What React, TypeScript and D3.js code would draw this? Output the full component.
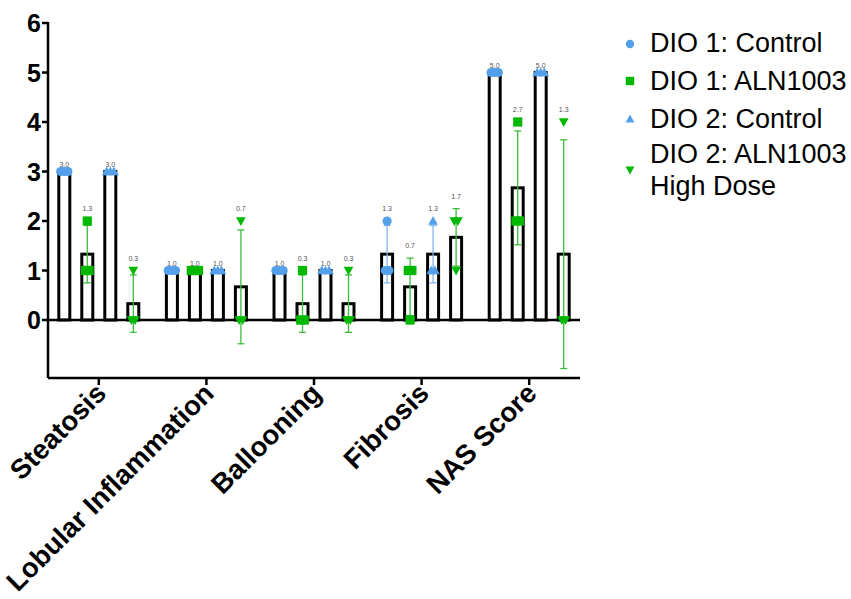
import * as d3 from 'd3';

const categories = ['Steatosis', 'Lobular Inflammation', 'Ballooning', 'Fibrosis', 'NAS Score'];
const seriesNames = ['DIO 1: Control', 'DIO 1: ALN1003', 'DIO 2: Control', 'DIO 2: ALN1003 High Dose'];
const seriesShapes = ['circle', 'square', 'triangle', 'triangleDown'];
const seriesColors = ['#549fe9', '#00b800', '#549fe9', '#00b800'];
const errorColors = ['#7fb4ee', '#3cbc3c', '#7fb4ee', '#3cbc3c'];

// individual animals per category
const dio1ControlPoints = [[3, 3, 3], [1, 1, 1], [1, 1, 1], [2, 1, 1], [5, 5, 5]];
const dio1AlnPoints = [[2, 1, 1], [1, 1, 1], [1, 0, 0], [1, 1, 0], [4, 2, 2]];
const dio2ControlPoints = [[3, 3, 3], [1, 1, 1], [1, 1, 1], [2, 1, 1], [5, 5, 5]];
const dio2AlnPoints = [[1, 0, 0], [2, 0, 0], [1, 0, 0], [2, 2, 1], [4, 0, 0]];

// bar heights (mean) and error bars (SD)
const dio1ControlMean = [3.0, 1.0, 1.0, 1.33, 5.0];
const dio1AlnMean = [1.33, 1.0, 0.33, 0.67, 2.67];
const dio2ControlMean = [3.0, 1.0, 1.0, 1.33, 5.0];
const dio2AlnMean = [0.33, 0.67, 0.33, 1.67, 1.33];
const dio1ControlSd = [0, 0, 0, 0.58, 0];
const dio1AlnSd = [0.58, 0, 0.58, 0.58, 1.15];
const dio2ControlSd = [0, 0, 0, 0.58, 0];
const dio2AlnSd = [0.58, 1.15, 0.58, 0.58, 2.31];

const yTicks = [0, 1, 2, 3, 4, 5, 6];

const allPoints = [dio1ControlPoints, dio1AlnPoints, dio2ControlPoints, dio2AlnPoints];
const allMeans = [dio1ControlMean, dio1AlnMean, dio2ControlMean, dio2AlnMean];
const allSds = [dio1ControlSd, dio1AlnSd, dio2ControlSd, dio2AlnSd];

const width = 851;
const height = 599;
const axisX = 48;
const axisBottom = 378;
const plotRight = 580;

const y = d3.scaleLinear().domain([0, 6]).range([320, 23]);
const x = d3.scaleBand().domain(categories).range([45, 583]).padding(0);
const barOffset = d3.scalePoint().domain(seriesNames).range([-34.5, 34.5]);
const BAR_W = 11;
const M = 4.6;

function marker(shape: string, cx: number, cy: number, color: string, key: string, s = M) {
  if (shape === 'circle') return <circle key={key} cx={cx} cy={cy} r={s} fill={color} />;
  if (shape === 'square') return <rect key={key} x={cx - s} y={cy - s} width={s * 2} height={s * 2} fill={color} />;
  const h = s * 1.1;
  if (shape === 'triangle')
    return <path key={key} d={`M${cx},${cy - h}L${cx + s * 1.05},${cy + h * 0.75}L${cx - s * 1.05},${cy + h * 0.75}Z`} fill={color} />;
  return <path key={key} d={`M${cx},${cy + h}L${cx + s * 1.05},${cy - h * 0.75}L${cx - s * 1.05},${cy - h * 0.75}Z`} fill={color} />;
}

export default function App() {
  const marks: any[] = [];
  const overlay: any[] = [];

  categories.forEach((cat, ci) => {
    seriesNames.forEach((name, si) => {
      const cx = (x(cat) || 0) + x.bandwidth() / 2 + (barOffset(name) || 0);
      const mean = allMeans[si][ci];
      const sd = allSds[si][ci];
      const pts = allPoints[si][ci];
      marks.push(
        <rect key={`b${ci}${si}`} x={cx - BAR_W / 2} y={y(mean)} width={BAR_W} height={y(0) - y(mean)}
          fill="#fff" stroke="#000" strokeWidth={3} />
      );
      if (sd > 0) {
        const yt = y(mean + sd);
        const yb = y(mean - sd);
        overlay.push(
          <g key={`e${ci}${si}`} stroke={errorColors[si]} strokeWidth={1.3}>
            <line x1={cx} x2={cx} y1={yt} y2={yb} />
            <line x1={cx - 3.5} x2={cx + 3.5} y1={yt} y2={yt} />
            <line x1={cx - 3.5} x2={cx + 3.5} y1={yb} y2={yb} />
          </g>
        );
      }
      const groups = d3.group(pts, (v: number) => v);
      groups.forEach((vals, v) => {
        vals.forEach((_, k) => {
          const dx = (k - (vals.length - 1) / 2) * 3.6;
          overlay.push(marker(seriesShapes[si], cx + dx, y(v), seriesColors[si], `p${ci}${si}${v}${k}`));
        });
      });
      const top = Math.min(y(d3.max(pts) as number), sd > 0 ? y(mean + sd) : Infinity);
      overlay.push(
        <text key={`l${ci}${si}`} x={cx} y={top - (sd > 0 ? 10 : 5)} textAnchor="middle"
          fontSize={7} fill="#555" fontFamily="Liberation Sans, Arial, sans-serif">
          {mean.toFixed(1)}
        </text>
      );
    });
  });

  const legendBaselines = [[52], [90], [128], [163, 195]];
  const legendMarkerY = [44, 81, 119, 170];
  const legendLines = [['DIO 1: Control'], ['DIO 1: ALN1003'], ['DIO 2: Control'], ['DIO 2: ALN1003', 'High Dose']];

  return (
    <svg width={width} height={height} style={{ position: 'absolute', left: 0, top: 0 }}
      fontFamily="Liberation Sans, Arial, sans-serif">
      <rect width={width} height={height} fill="#fff" />
      {marks}
      {/* zero line and axes */}
      <line x1={axisX} x2={plotRight} y1={y(0)} y2={y(0)} stroke="#000" strokeWidth={2.5} />
      <line x1={axisX} x2={axisX} y1={y(6) - 1} y2={axisBottom} stroke="#000" strokeWidth={2.5} />
      <line x1={axisX} x2={plotRight} y1={axisBottom} y2={axisBottom} stroke="#000" strokeWidth={2.5} />
      {yTicks.map((t) => (
        <g key={`yt${t}`}>
          <line x1={axisX - 6} x2={axisX} y1={y(t)} y2={y(t)} stroke="#000" strokeWidth={2.5} />
          <text x={axisX - 7} y={y(t) + 9} textAnchor="end" fontSize={25} fontWeight="bold">{t}</text>
        </g>
      ))}
      {categories.map((c) => {
        const cx = (x(c) || 0) + x.bandwidth() / 2;
        return (
          <g key={`xt${c}`}>
            <line x1={cx} x2={cx} y1={axisBottom} y2={axisBottom + 7} stroke="#000" strokeWidth={2.5} />
            <text transform={`translate(${cx + 9},${axisBottom + 17}) rotate(-45)`} textAnchor="end"
              fontSize={27.5} fontWeight="bold">{c}</text>
          </g>
        );
      })}
      {overlay}
      {seriesNames.map((n, i) => (
        <g key={`lg${i}`}>
          {marker(seriesShapes[i], 630, legendMarkerY[i], seriesColors[i], `lm${i}`, 4.2)}
          {legendLines[i].map((line, j) => (
            <text key={j} x={650} y={legendBaselines[i][j]} fontSize={27} fill="#000">{line}</text>
          ))}
        </g>
      ))}
    </svg>
  );
}
